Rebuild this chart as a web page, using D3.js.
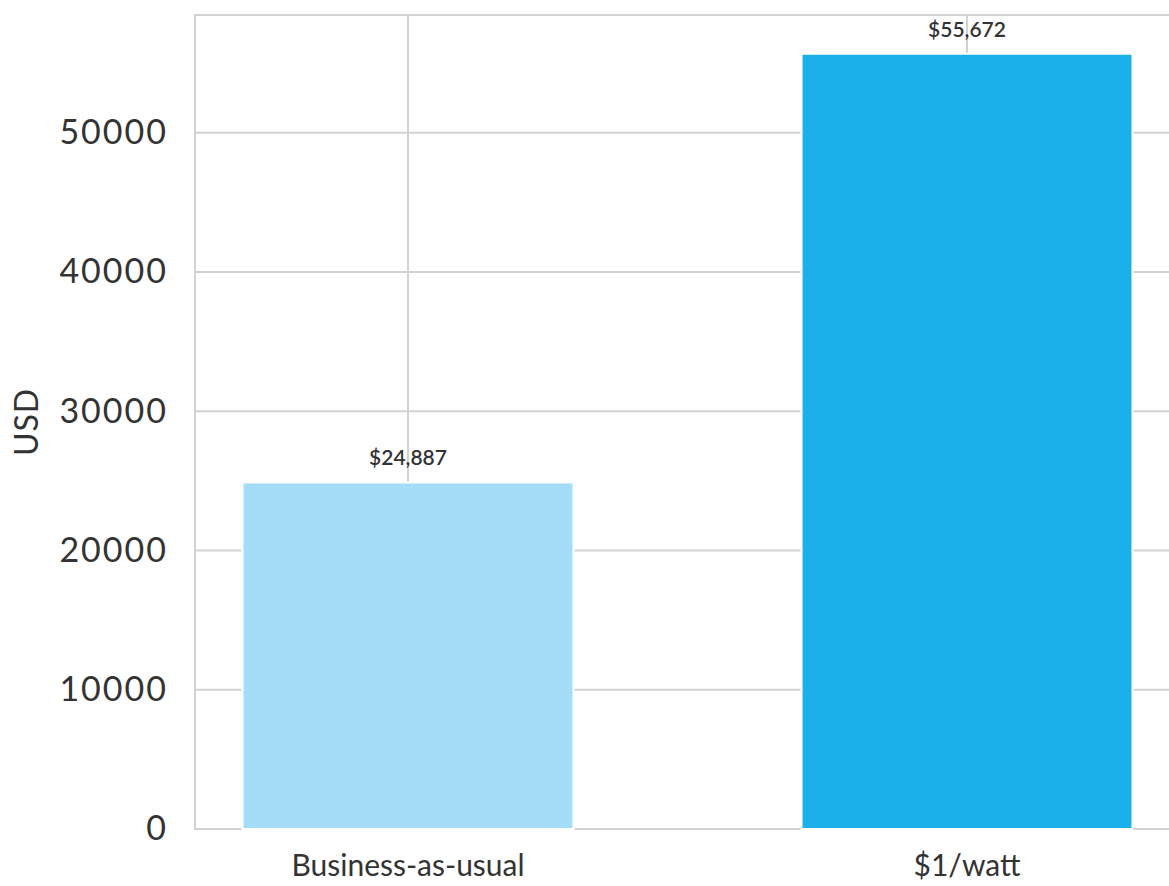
<!DOCTYPE html>
<html>
<head>
<meta charset="utf-8">
<script src="https://cdn.jsdelivr.net/npm/d3@7"></script>
<style>
  html, body { margin: 0; padding: 0; background: #fff; }
  svg { display: block; }
</style>
</head>
<body>
<svg id="chart" width="1169" height="886"></svg>
<script>
// Cost comparison (USD) for two scenarios
const categories = ["Business-as-usual", "$1/watt"];
const values = [24887, 55672];
const barColors = ["#a5ddf8", "#1cb0ea"];
const valueLabels = ["$24,887", "$55,672"];
const yTicks = [0, 10000, 20000, 30000, 40000, 50000];
const yTitle = "USD";

const svg = d3.select("#chart");
const W = 1169, H = 886;
const plot = { left: 195, top: 15, right: 1180, bottom: 829 };

const yMax = d3.max(values) * 1.05;
const y = d3.scaleLinear().domain([0, yMax]).range([plot.bottom, plot.top]);
const x = d3.scaleBand()
  .domain(categories)
  .range([plot.left, plot.right])
  .paddingInner(0.408)
  .paddingOuter(0.085);

const gridColor = "#d2d2d2";
const textColor = "#333";
const font = "Lato, 'Noto Sans', sans-serif";

// Gridlines
const grid = svg.append("g");
grid.selectAll("line.h").data(yTicks).join("line")
  .attr("x1", plot.left).attr("x2", plot.right)
  .attr("y1", d => y(d)).attr("y2", d => y(d))
  .attr("stroke", gridColor).attr("stroke-width", 2);
grid.selectAll("line.v").data(categories).join("line")
  .attr("x1", d => x(d) + x.bandwidth() / 2).attr("x2", d => x(d) + x.bandwidth() / 2)
  .attr("y1", plot.top).attr("y2", plot.bottom)
  .attr("stroke", gridColor).attr("stroke-width", 2);

// Frame
svg.append("rect")
  .attr("x", plot.left).attr("y", plot.top)
  .attr("width", plot.right - plot.left).attr("height", plot.bottom - plot.top)
  .attr("fill", "none").attr("stroke", gridColor).attr("stroke-width", 2);

// Bars
svg.append("g").selectAll("rect").data(categories).join("rect")
  .attr("x", d => x(d))
  .attr("y", (d, i) => y(values[i]))
  .attr("width", x.bandwidth())
  .attr("height", (d, i) => y(0) - y(values[i]))
  .attr("fill", (d, i) => barColors[i])
  .attr("stroke", "#fff").attr("stroke-width", 2);

// Value labels
svg.append("g").selectAll("text").data(categories).join("text")
  .attr("x", d => x(d) + x.bandwidth() / 2)
  .attr("y", (d, i) => y(values[i]) - 17)
  .attr("text-anchor", "middle")
  .attr("font-family", font).attr("font-size", 21).attr("font-weight", 600)
  .attr("fill", textColor)
  .text((d, i) => valueLabels[i]);

// Y axis tick labels
const yAxis = d3.axisLeft(y).tickValues(yTicks).tickSize(0).tickPadding(27).tickFormat(d3.format("d"));
const gy = svg.append("g").attr("transform", `translate(${plot.left},0)`).call(yAxis);
gy.select(".domain").remove();
gy.selectAll("text")
  .attr("font-family", font).attr("font-size", 34)
  .attr("letter-spacing", 2)
  .attr("fill", textColor);

// X axis category labels
const xAxis = d3.axisBottom(x).tickSize(0).tickPadding(26);
const gx = svg.append("g").attr("transform", `translate(0,${plot.bottom})`).call(xAxis);
gx.select(".domain").remove();
gx.selectAll("text")
  .attr("font-family", font).attr("font-size", 30)
  .attr("fill", textColor);

// Y title
svg.append("text")
  .attr("transform", `translate(38, ${(plot.top + plot.bottom) / 2}) rotate(-90)`)
  .attr("text-anchor", "middle")
  .attr("font-family", font).attr("font-size", 32)
  .attr("letter-spacing", 1)
  .attr("fill", textColor)
  .text(yTitle);
</script>
</body>
</html>
